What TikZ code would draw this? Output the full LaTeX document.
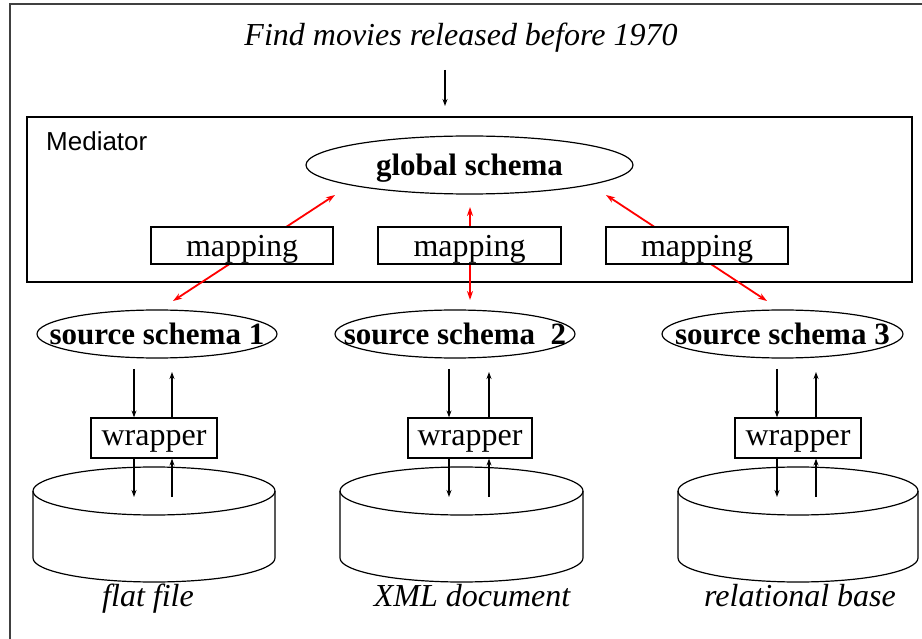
\documentclass[tikz,border=0pt]{standalone}
\usepackage{fontspec}
\setmainfont{Liberation Serif}
\setsansfont{Liberation Sans}
\usetikzlibrary{shapes.geometric,arrows.meta}
\newcommand\myfs[1]{\fontsize{#1}{#1}\selectfont}
\newcommand\mycyl[3]{%
  \node[draw, ellipse, line width=1.2pt, minimum width={2*#3}, minimum height=48, inner sep=0pt] (#1) at (#2,491) {};
  \draw[line width=1.2pt] ({#2-#3},491) -- ({#2-#3},558)
    .. controls ({#2-#3},571.25) and ({#2-0.5523*#3},582) .. (#2,582)
    .. controls ({#2+0.5523*#3},582) and ({#2+#3},571.25) .. ({#2+#3},558)
    -- ({#2+#3},491);
}
\begin{document}
\begin{tikzpicture}[x=1pt,y=-1pt,
  box/.style={draw, line width=1.2pt, fill=white, inner sep=0pt},
  ell/.style={draw, ellipse, line width=1.2pt, inner sep=0pt},
  bl/.style={font=\myfs{31}\bfseries, text depth=0pt},
  rm/.style={font=\myfs{32}, text depth=0pt},
  it/.style={font=\myfs{32}\itshape},
  rarr/.style={red, line width=1.8pt, {Stealth[length=9pt,width=6pt]}-{Stealth[length=9pt,width=6pt]}},
  barr/.style={line width=1.5pt, -{Stealth[length=7pt,width=5pt]}}]
\useasboundingbox (0,0) rectangle (922,639);
\fill[white] (0,0) rectangle (922,639);
\draw[black!75, line width=1.5pt] (922,4) -- (10,4) -- (10,639);

% query
\node[it, anchor=base] (query) at (461,46) {Find movies released before 1970};
\coordinate (qt) at (445,70);
\coordinate (qb) at (445,106);
\draw[barr] (qt) -- (qb);

% mediator
\node[draw, line width=1.2pt, minimum width=885, minimum height=165, inner sep=0pt] (med) at (469.5,199.5) {};
\node[font=\sffamily\myfs{26}, anchor=base west, inner sep=0pt] (medlbl) at (46,151) {Mediator};
\node[ell, minimum width=327, minimum height=58, label={[bl]center:global schema}] (glob) at (469.5,165) {};

% red mapping arrows
\coordinate (r1a) at (173,301); \coordinate (r1b) at (335,195);
\coordinate (r2a) at (470,300); \coordinate (r2b) at (470,207);
\coordinate (r3a) at (767,301); \coordinate (r3b) at (606,195);
\draw[rarr] (r1a) -- (r1b);
\draw[rarr] (r2a) -- (r2b);
\draw[rarr] (r3a) -- (r3b);

\node[box, rm, minimum width=182, minimum height=37] (map1) at (242,245.5) {mapping};
\node[box, rm, minimum width=183, minimum height=37] (map2) at (469.5,245.5) {mapping};
\node[box, rm, minimum width=182, minimum height=37] (map3) at (697,245.5) {mapping};

% source schemas
\node[ell, minimum width=240, minimum height=48, label={[bl]center:source schema 1}] (src1) at (157,334) {};
\node[ell, minimum width=240, minimum height=48, label={[bl]center:source schema\ \ 2}] (src2) at (455,334) {};
\node[ell, minimum width=241, minimum height=48, label={[bl]center:source schema 3}] (src3) at (782.5,334) {};

% cylinders
\mycyl{db1}{154}{121}
\mycyl{db2}{461.5}{121.5}
\mycyl{db3}{798}{120}

% wrappers
\node[box, rm, minimum width=126, minimum height=40] (wr1) at (154,438) {wrapper};
\node[box, rm, minimum width=124, minimum height=40] (wr2) at (470,438) {wrapper};
\node[box, rm, minimum width=126, minimum height=40] (wr3) at (798,438) {wrapper};

\foreach \w/\l/\r in {wr1/134/172, wr2/449/489, wr3/777/816}{
  \coordinate (a) at (\l,369);
  \coordinate (b) at (\r,372);
  \coordinate (c) at (\l,497);
  \coordinate (d) at (\r,497);
  \draw[barr] (a) -- (a |- \w.north);
  \draw[barr] (\w.north -| b) -- (b);
  \draw[barr] (\w.south -| c) -- (c);
  \draw[barr] (d) -- (d |- \w.south);
}

% labels
\node[it, anchor=base] (lab1) at (148,606) {flat file};
\node[it, anchor=base] (lab2) at (472,606) {XML document};
\node[it, anchor=base] (lab3) at (800,606) {relational base};
\end{tikzpicture}
\end{document}
